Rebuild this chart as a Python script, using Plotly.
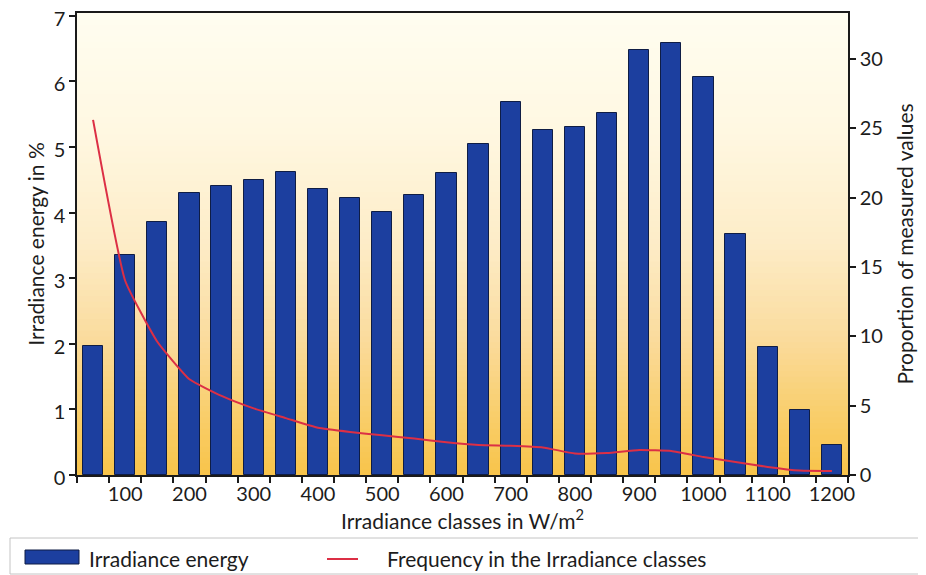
import plotly.graph_objects as go

# ---- data ----
classes = [50, 100, 150, 200, 250, 300, 350, 400, 450, 500, 550, 600,
           650, 700, 750, 800, 850, 900, 950, 1000, 1050, 1100, 1150, 1200]
irradiance_energy = [1.97, 3.36, 3.86, 4.30, 4.41, 4.50, 4.61, 4.36, 4.22, 4.01, 4.26, 4.60,
                     5.04, 5.69, 5.25, 5.30, 5.52, 6.48, 6.58, 6.06, 3.68, 1.95, 0.99, 0.46]
frequency = [25.6, 14.0, 9.6, 6.9, 5.7, 4.8, 4.1, 3.4, 3.1, 2.86, 2.63, 2.36,
             2.17, 2.11, 1.99, 1.55, 1.59, 1.80, 1.73, 1.30, 0.94, 0.58, 0.32, 0.29]
x_tick_labels = ["100", "200", "300", "400", "500", "600", "700", "800", "900", "1000", "1100", "1200"]
x_tick_vals = [100, 200, 300, 400, 500, 600, 700, 800, 900, 1000, 1100, 1200]

series_names = ["Irradiance energy", "Frequency in the Irradiance classes"]

# ---- layout geometry (page pixels; the page body has an 8px margin) ----
PAGE_W, PAGE_H = 926, 575
OFF = 8
FIG_W, FIG_H = PAGE_W - OFF, PAGE_H - OFF
L, R, T, B = 77, 848, 13, 475          # plot-area edges in page pixels
W, H = R - L, B - T


def fx(px):
    return (px - L) / W


def fy(py):
    return (B - py) / H


FONT = "Lato, Carlito, 'Open Sans', sans-serif"
TXT = "#1c1c1c"
BAR_COLOR = "#1c3f9f"
LINE_COLOR = "#dc2f45"

fig = go.Figure()

fig.add_trace(go.Bar(
    x=classes, y=irradiance_energy, name=series_names[0],
    width=31.5,
    marker=dict(color=BAR_COLOR, line=dict(color="#0f1d45", width=1)),
    showlegend=False,
))
fig.add_trace(go.Scatter(
    x=classes, y=frequency, name=series_names[1], yaxis="y2",
    mode="lines", line=dict(color=LINE_COLOR, width=2, shape="spline", smoothing=0.4),
    showlegend=False,
))

# ---- gradient background ----
stops = [  # (fraction from bottom, rgb)
    (0.00, (248, 196, 74)),
    (0.12, (249, 205, 104)),
    (0.30, (250, 220, 158)),
    (0.50, (253, 236, 199)),
    (0.75, (255, 248, 226)),
    (1.00, (255, 253, 240)),
]


def color_at(f):
    for (f0, c0), (f1, c1) in zip(stops[:-1], stops[1:]):
        if f0 <= f <= f1:
            t = (f - f0) / (f1 - f0)
            return "rgb(%d,%d,%d)" % tuple(round(a + (b - a) * t) for a, b in zip(c0, c1))
    return "rgb(%d,%d,%d)" % stops[-1][1]


shapes = []
N = 80
for i in range(N):
    shapes.append(dict(type="rect", xref="paper", yref="paper", x0=0, x1=1,
                       y0=i / N, y1=(i + 1) / N + 0.002,
                       fillcolor=color_at((i + 0.5) / N), line=dict(width=0), layer="below"))

# ---- manual legend ----
shapes.append(dict(type="rect", xref="paper", yref="paper",
                   x0=fx(10), x1=fx(923), y0=fy(538), y1=fy(574),
                   fillcolor="white", line=dict(color="#c4c4c4", width=1), layer="above"))
shapes.append(dict(type="rect", xref="paper", yref="paper",
                   x0=fx(25), x1=fx(79), y0=fy(550), y1=fy(564),
                   fillcolor=BAR_COLOR, line=dict(color="#0f1d45", width=1), layer="above"))
shapes.append(dict(type="line", xref="paper", yref="paper",
                   x0=fx(327), x1=fx(358), y0=fy(559), y1=fy(559),
                   line=dict(color=LINE_COLOR, width=2), layer="above"))

annotations = [
    dict(text=series_names[0], xref="paper", yref="paper", x=fx(87), y=fy(558),
         xanchor="left", yanchor="middle", showarrow=False,
         font=dict(family=FONT, size=21, color=TXT)),
    dict(text=series_names[1], xref="paper", yref="paper", x=fx(385), y=fy(558),
         xanchor="left", yanchor="middle", showarrow=False,
         font=dict(family=FONT, size=21, color=TXT)),
]

axis_line = dict(showline=True, linecolor="#1a1a1a", linewidth=1.5)

fig.update_layout(
    width=FIG_W, height=FIG_H,
    margin=dict(l=L - OFF, r=FIG_W - (R - OFF), t=T - OFF, b=FIG_H - (B - OFF), autoexpand=False),
    paper_bgcolor="white",
    plot_bgcolor="rgb(253,236,199)",
    font=dict(family=FONT, size=20, color=TXT),
    showlegend=False,
    bargap=0,
    shapes=shapes,
    annotations=annotations,
    xaxis=dict(
        range=[25, 1225], tickvals=x_tick_vals, ticktext=x_tick_labels,
        ticks="", showgrid=False, zeroline=False, mirror=True, automargin=False,
        minor=dict(tick0=25, dtick=50, ticks="outside", ticklen=6, tickwidth=1.5, tickcolor="#1a1a1a"),
        tickfont=dict(size=20),
        title=dict(text="Irradiance classes in W/m<sup>2</sup>", standoff=4, font=dict(size=21)),
        **axis_line,
    ),
    yaxis=dict(
        range=[0, 7.04], dtick=1, tick0=0, ticks="outside", ticklen=6, tickwidth=1.5,
        tickcolor="#1a1a1a", showgrid=False, zeroline=False, mirror=True, automargin=False,
        ticklabeloverflow="allow", ticklabelshift=3,
        tickfont=dict(size=20),
        title=dict(text="Irradiance energy in %", standoff=3, font=dict(size=21)),
        **axis_line,
    ),
    yaxis2=dict(
        range=[0, 33.3], dtick=5, tick0=0, overlaying="y", side="right",
        ticks="outside", ticklen=6, tickwidth=1.5, tickcolor="#1a1a1a",
        showgrid=False, zeroline=False, automargin=False,
        ticklabeloverflow="allow",
        tickfont=dict(size=20),
        title=dict(text="Proportion of measured values", standoff=16, font=dict(size=21)),
        **axis_line,
    ),
)

fig.write_html("out.html")
